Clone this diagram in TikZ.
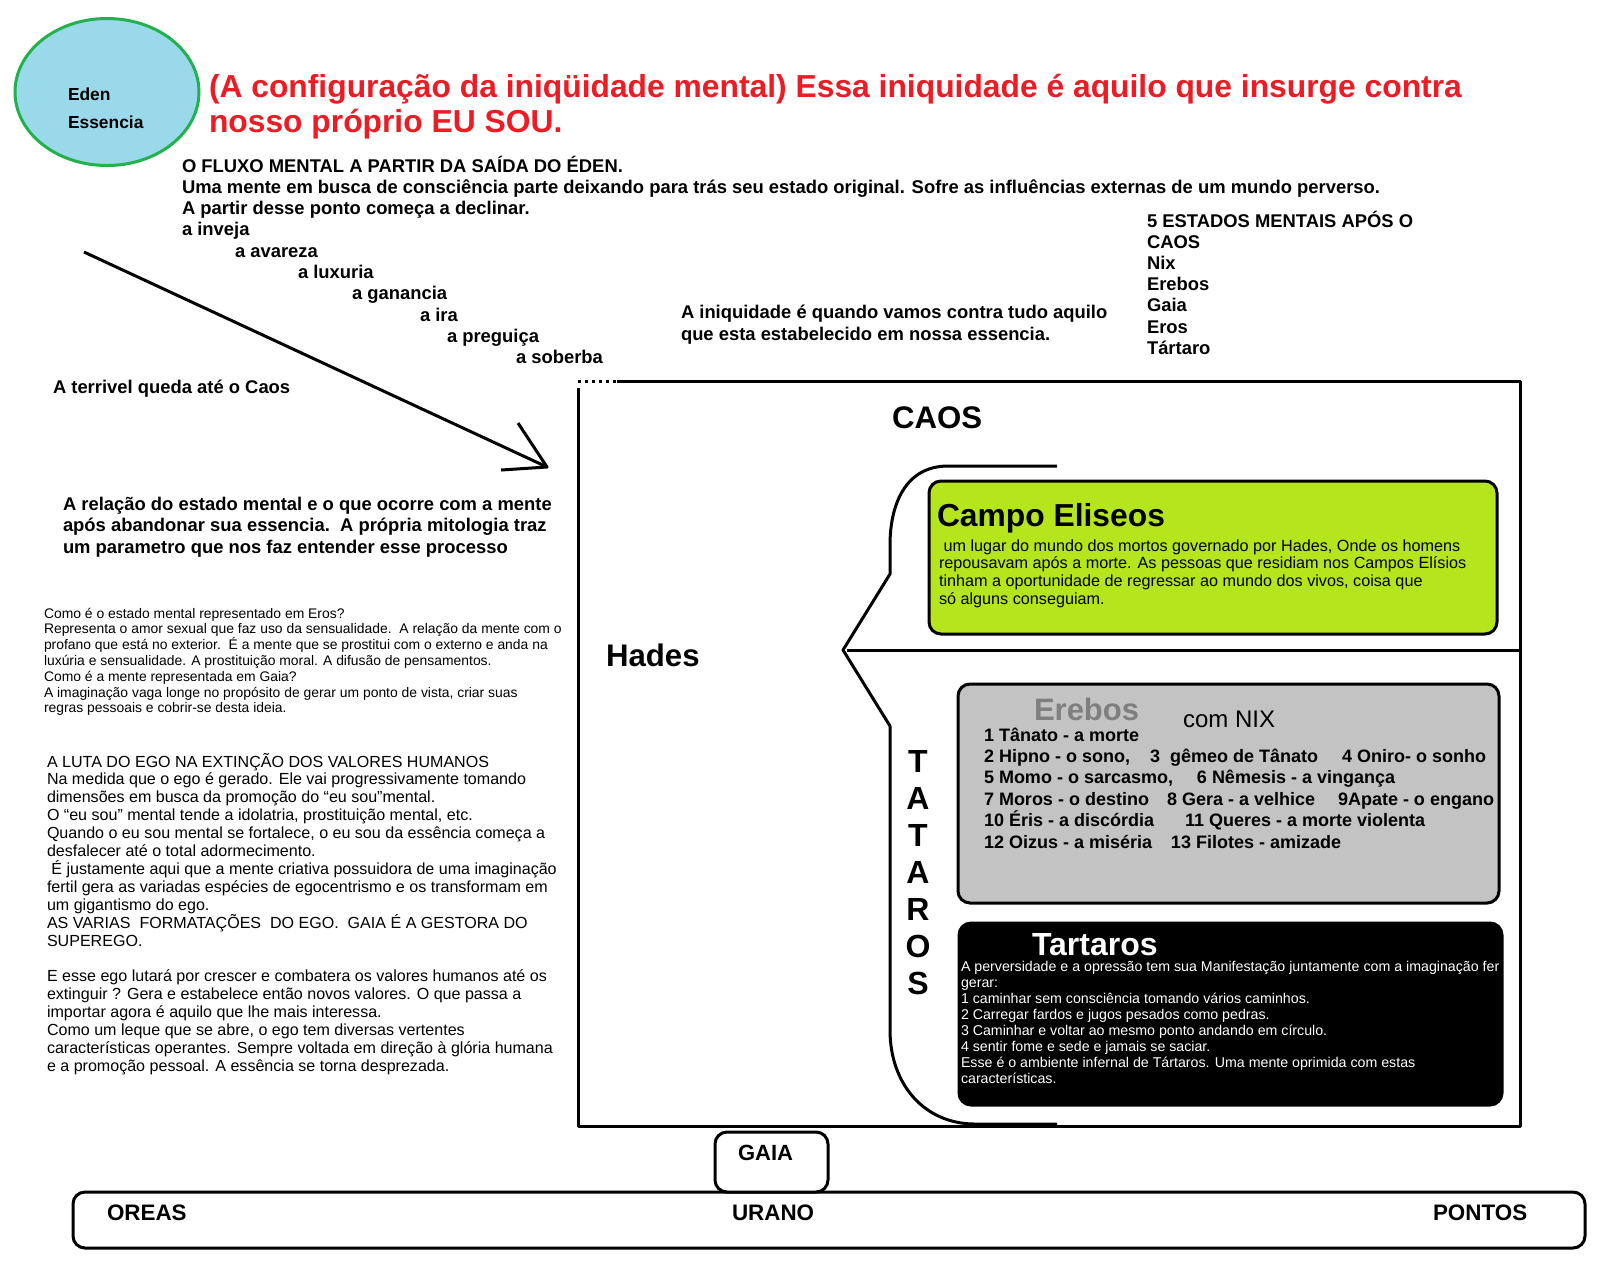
\documentclass[tikz,border=0pt]{standalone}
\usepackage{fontspec}
\setmainfont{Liberation Sans}
\usetikzlibrary{shapes.geometric}
\definecolor{edenfill}{RGB}{153,217,234}
\definecolor{edengreen}{RGB}{34,177,76}
\definecolor{titlered}{RGB}{237,28,36}
\definecolor{campolime}{RGB}{181,230,29}
\definecolor{erebgray}{RGB}{195,195,195}
\definecolor{erebtitle}{RGB}{127,127,127}
\newcommand\fsz[2]{\fontsize{#1}{#2}\selectfont}
\newcommand\lines[1]{\vtop{\halign{##\hfil\cr#1\crcr}}}
\newcommand\clines[1]{\vtop{\halign{\hfil##\hfil\cr#1\crcr}}}
\begin{document}
\begin{tikzpicture}[x=0.5pt,y=-0.5pt,
  txt/.style={anchor=base west,inner sep=0pt,outer sep=0pt},
  frameline/.style={line width=1.5pt,line join=round},
  boxshape/.style={draw=black,line width=1.5pt,rounded corners=6pt,anchor=north west,inner sep=0pt,outer sep=0pt},
  bodybold/.style={font=\fsz{9.2pt}{10.6pt}\bfseries},
  bigbold/.style={font=\fsz{15.6pt}{16pt}\bfseries},
  basetext/.style={font=\fsz{11.2pt}{12pt}\bfseries}]
\path[use as bounding box,fill=white] (0,0) rectangle (1600,1266);

% Eden
\node[ellipse,draw=edengreen,fill=edenfill,line width=1.5pt,minimum width=92pt,minimum height=73.5pt,inner sep=0pt] (eden) at (107,92) {};
\node[txt,font=\fsz{8.7pt}{14pt}\bfseries] (edentxt) at (68,100) {\lines{Eden\cr Essencia}};

% title
\node[txt,text=titlered,font=\fsz{15.9pt}{17.5pt}\bfseries] (title) at (209,97) {\lines{(A configuração da iniqüidade mental) Essa iniquidade é aquilo que insurge contra\cr nosso próprio EU SOU.}};

% top block
\node[txt,bodybold] (fluxo) at (182,172) {\lines{O FLUXO MENTAL A PARTIR DA SAÍDA DO ÉDEN.\cr Uma mente em busca de consciência parte deixando para trás seu estado original. Sofre as influências externas de um mundo perverso.\cr A partir desse ponto começa a declinar.\cr a inveja}};
\node[txt,bodybold] (v1) at (235,257) {a avareza};
\node[txt,bodybold] (v2) at (298,278) {a luxuria};
\node[txt,bodybold] (v3) at (352,299) {a ganancia};
\node[txt,bodybold] (v4) at (420,321) {a ira};
\node[txt,bodybold] (v5) at (447,342) {a preguiça};
\node[txt,bodybold] (v6) at (516,363) {a soberba};

\node[txt,bodybold] (estados) at (1147,227) {\lines{5 ESTADOS MENTAIS APÓS O\cr CAOS\cr Nix\cr Erebos\cr Gaia\cr Eros\cr Tártaro}};
\node[txt,font=\fsz{9.2pt}{11pt}\bfseries] (iniq) at (681,318) {\lines{A iniquidade é quando vamos contra tudo aquilo\cr que esta estabelecido em nossa essencia.}};
\node[txt,bodybold] (queda) at (53,393) {A terrivel queda até o Caos};
\node[txt,font=\fsz{9.2pt}{10.75pt}\bfseries] (relacao) at (63,510) {\lines{A relação do estado mental e o que ocorre com a mente\cr após abandonar sua essencia.\ \ A própria mitologia traz\cr um parametro que nos faz entender esse processo}};

% arrow
\coordinate (arrS) at (84,252);
\coordinate (arrE) at (547,467);
\coordinate (arrA) at (518,423);
\coordinate (arrB) at (501,470);
\draw[frameline] (arrS) -- (arrE);
\draw[frameline] (arrA) -- (arrE) -- (arrB);

% Eros block
\node[txt,font=\fsz{6.95pt}{7.9pt}] (eros) at (44,618) {\lines{Como é o estado mental representado em Eros?\cr
Representa o amor sexual que faz uso da sensualidade.\ \ A relação da mente com o\cr
profano que está no exterior.\ \ É a mente que se prostitui com o externo e anda na\cr
luxúria e sensualidade. A prostituição moral. A difusão de pensamentos.\cr
Como é a mente representada em Gaia?\cr
A imaginação vaga longe no propósito de gerar um ponto de vista, criar suas\cr
regras pessoais e cobrir-se desta ideia.}};

% Luta block
\node[txt,font=\fsz{8.03pt}{8.95pt}] (luta) at (47,767) {\lines{A LUTA DO EGO NA EXTINÇÃO DOS VALORES HUMANOS\cr
Na medida que o ego é gerado. Ele vai progressivamente tomando\cr
dimensões em busca da promoção do “eu sou”mental.\cr
O “eu sou” mental tende a idolatria, prostituição mental, etc.\cr
Quando o eu sou mental se fortalece, o eu sou da essência começa a\cr
desfalecer até o total adormecimento.\cr
\ É justamente aqui que a mente criativa possuidora de uma imaginação\cr
fertil gera as variadas espécies de egocentrismo e os transformam em\cr
um gigantismo do ego.\cr
AS VARIAS\ \ FORMATAÇÕES\ \ DO EGO.\ \ GAIA É A GESTORA DO\cr
SUPEREGO.\cr
\cr
E esse ego lutará por crescer e combatera os valores humanos até os\cr
extinguir ? Gera e estabelece então novos valores. O que passa a\cr
importar agora é aquilo que lhe mais interessa.\cr
Como um leque que se abre, o ego tem diversas vertentes\cr
características operantes. Sempre voltada em direção à glória humana\cr
e a promoção pessoal. A essência se torna desprezada.}};

% CAOS frame
\draw[line width=1.5pt,dotted] (578,381) -- (617,381);
\draw[frameline] (617,381) -- (1520,381) -- (1520,1126) -- (578,1126) -- (578,388);
\node[txt,bigbold] (caos) at (892,428) {CAOS};
\node[txt,bigbold] (hades) at (606,666) {Hades};

% brace shape
\draw[frameline] (1057,466) -- (948,466) .. controls (905,466) and (890,505) .. (890,545) -- (890,574) -- (843,650) -- (890,726) -- (890,1030) .. controls (890,1085) and (925,1124) .. (975,1124) -- (1057,1124);
\draw[frameline] (847,650) -- (1520,650);
\node[anchor=base,inner sep=0pt,font=\fsz{16pt}{18.5pt}\bfseries] (tataros) at (918,772) {\clines{T\cr A\cr T\cr A\cr R\cr O\cr S}};

% Campo Eliseos
\node[boxshape,fill=campolime,minimum width=284pt,minimum height=76.5pt] (campo) at (929,481) {};
\node[txt,font=\fsz{15.9pt}{16pt}\bfseries] (campot) at (937,526) {Campo Eliseos};
\node[txt,font=\fsz{8.1pt}{8.9pt}] (campob) at (939,551) {\lines{\ um lugar do mundo dos mortos governado por Hades, Onde os homens\cr
repousavam após a morte. As pessoas que residiam nos Campos Elísios\cr
tinham a oportunidade de regressar ao mundo dos vivos, coisa que\cr
só alguns conseguiam.}};

% Erebos
\node[boxshape,fill=erebgray,minimum width=270.5pt,minimum height=109.5pt] (erebos) at (958,684) {};
\node[txt,text=erebtitle,font=\fsz{15.5pt}{16pt}\bfseries] (erebost) at (1034,720) {Erebos};
\node[txt,font=\fsz{12pt}{13pt}] (nix) at (1183,727) {com NIX};
\node[txt,font=\fsz{9pt}{10.7pt}\bfseries] (erebosl) at (984,741) {\lines{1 Tânato - a morte\cr
\makebox[83pt][l]{2 Hipno - o sono,}\makebox[96pt][l]{3\ \ gêmeo de Tânato}4 Oniro- o sonho\cr
\makebox[106.5pt][l]{5 Momo - o sarcasmo,}6 Nêmesis - a vingança\cr
\makebox[91.5pt][l]{7 Moros - o destino}\makebox[85.5pt][l]{8 Gera - a velhice}9Apate - o engano\cr
\makebox[100.5pt][l]{10 Éris - a discórdia}11 Queres - a morte violenta\cr
\makebox[93.5pt][l]{12 Oizus - a miséria}13 Filotes - amizade}};

% Tartaros
\node[boxshape,fill=black,minimum width=271.5pt,minimum height=91pt] (tartaros) at (959,923) {};
\node[txt,text=white,font=\fsz{16pt}{16pt}\bfseries] (tartarost) at (1032,955) {Tartaros};
\node[txt,text=white,font=\fsz{7.1pt}{8pt}] (tartarosb) at (961,971) {\lines{A perversidade e a opressão tem sua Manifestação juntamente com a imaginação fer\cr
gerar:\cr
1 caminhar sem consciência tomando vários caminhos.\cr
2 Carregar fardos e jugos pesados como pedras.\cr
3 Caminhar e voltar ao mesmo ponto andando em círculo.\cr
4 sentir fome e sede e jamais se saciar.\cr
Esse é o ambiente infernal de Tártaros. Uma mente oprimida com estas\cr
características.}};

% Urano / Gaia
\node[boxshape,fill=white,minimum width=756pt,minimum height=28pt] (urano) at (73,1192) {};
\node[boxshape,fill=white,minimum width=56.5pt,minimum height=30pt] (gaia) at (715,1132) {};
\node[txt,font=\fsz{11pt}{12pt}\bfseries] (gaiat) at (738,1160) {GAIA};
\node[txt,basetext] (oreas) at (107,1220) {OREAS};
\node[txt,basetext] (uranot) at (732,1220) {URANO};
\node[txt,basetext] (pontos) at (1433,1220) {PONTOS};
\end{tikzpicture}
\end{document}
